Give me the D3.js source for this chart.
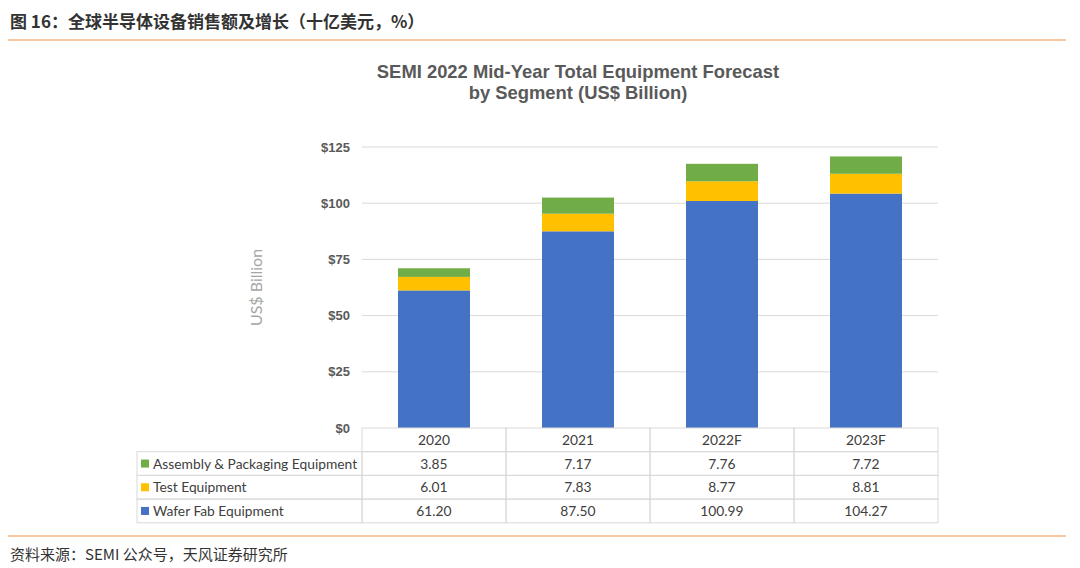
<!DOCTYPE html>
<html>
<head>
<meta charset="utf-8">
<script src="https://cdn.jsdelivr.net/npm/d3@7"></script>
<style>
  body { margin: 0; background: #fff; }
  svg { display: block; }
</style>
</head>
<body>
<svg id="chart" width="1080" height="568"></svg>
<script>
// Chart data
const years = ['2020', '2021', '2022F', '2023F'];
const seriesNames = ['Assembly & Packaging Equipment', 'Test Equipment', 'Wafer Fab Equipment'];
const assembly = [3.85, 7.17, 7.76, 7.72];
const test = [6.01, 7.83, 8.77, 8.81];
const waferFab = [61.20, 87.50, 100.99, 104.27];
const yTicks = [0, 25, 50, 75, 100, 125];
const seriesColors = ['#70AD47', '#FFC000', '#4472C4'];

const svg = d3.select('#chart');
const cjk = '"Noto Sans CJK SC", "Liberation Sans", sans-serif';
const tableFont = 'Lato, "Open Sans", sans-serif';

// Header & footer
svg.append('text')
    .attr('x', 10).attr('y', 28)
    .attr('font-family', cjk).attr('font-size', 17).attr('font-weight', 'bold')
    .attr('fill', '#333')
    .text('图 16：全球半导体设备销售额及增长（十亿美元，%）');
svg.append('line')
    .attr('x1', 8).attr('x2', 1066).attr('y1', 40).attr('y2', 40)
    .attr('stroke', '#F8B47E').attr('stroke-width', 1.5);
svg.append('line')
    .attr('x1', 8).attr('x2', 1066).attr('y1', 536).attr('y2', 536)
    .attr('stroke', '#F8B47E').attr('stroke-width', 1.5);
svg.append('text')
    .attr('x', 10).attr('y', 560)
    .attr('font-family', cjk).attr('font-size', 15)
    .attr('fill', '#333')
    .text('资料来源：SEMI 公众号，天风证券研究所');

// Title
const title = svg.append('text')
    .attr('text-anchor', 'middle')
    .attr('font-family', '"Liberation Sans", Arial, sans-serif')
    .attr('font-size', 18.4).attr('font-weight', 'bold')
    .attr('fill', '#595959');
title.append('tspan').attr('x', 578).attr('y', 78).text('SEMI 2022 Mid-Year Total Equipment Forecast');
title.append('tspan').attr('x', 578).attr('y', 99).text('by Segment (US$ Billion)');

// Scales
const plotLeft = 362, plotRight = 938, plotTop = 147, plotBottom = 428;
const x = d3.scaleBand().domain(years).range([plotLeft, plotRight]).paddingInner(0.5).paddingOuter(0.25);
const xCell = d3.scaleBand().domain(years).range([plotLeft, plotRight]);
const y = d3.scaleLinear().domain([0, 125]).range([plotBottom, plotTop]);

// Gridlines
svg.append('g')
    .selectAll('line')
    .data(yTicks.filter(d => d > 0))
    .join('line')
    .attr('x1', plotLeft).attr('x2', plotRight)
    .attr('y1', d => y(d)).attr('y2', d => y(d))
    .attr('stroke', '#d9d9d9').attr('stroke-width', 1);

// Y axis labels
const yAxis = svg.append('g')
    .attr('transform', `translate(${plotLeft - 12},0)`)
    .call(d3.axisLeft(y).tickValues(yTicks).tickSize(0).tickPadding(0).tickFormat(d => '$' + d));
yAxis.select('.domain').remove();
yAxis.selectAll('text')
    .attr('font-family', '"Liberation Sans", Arial, sans-serif')
    .attr('font-size', 13).attr('font-weight', 'bold')
    .attr('fill', '#595959');

svg.append('text')
    .attr('transform', `translate(262,${(plotTop + plotBottom) / 2}) rotate(-90)`)
    .attr('text-anchor', 'middle')
    .attr('font-family', tableFont)
    .attr('font-size', 16)
    .attr('fill', '#a6a6a6')
    .text('US$ Billion');

// Stacked bars (bottom to top: wafer fab, test, assembly)
const rows = years.map((yr, i) => ({ year: yr, wafer: waferFab[i], test: test[i], assembly: assembly[i] }));
const stack = d3.stack().keys(['wafer', 'test', 'assembly'])(rows);
const stackColors = { wafer: '#4472C4', test: '#FFC000', assembly: '#70AD47' };

svg.append('g')
    .selectAll('g')
    .data(stack)
    .join('g')
    .attr('fill', d => stackColors[d.key])
    .selectAll('rect')
    .data(d => d)
    .join('rect')
    .attr('x', d => x(d.data.year))
    .attr('width', x.bandwidth())
    .attr('y', d => y(d[1]))
    .attr('height', d => y(d[0]) - y(d[1]));

// Data table
const rowH = 23.7;
const tableLeft = 137;
const tbl = svg.append('g');
const border = '#d9d9d9';
const tSize = 13.8;

// header row cells (only year columns)
years.forEach(yr => {
    tbl.append('rect')
        .attr('x', xCell(yr)).attr('y', plotBottom)
        .attr('width', xCell.bandwidth()).attr('height', rowH)
        .attr('fill', 'none').attr('stroke', border);
    tbl.append('text')
        .attr('x', xCell(yr) + xCell.bandwidth() / 2).attr('y', plotBottom + rowH / 2 + 5)
        .attr('text-anchor', 'middle')
        .attr('font-family', tableFont).attr('font-size', tSize)
        .attr('fill', '#404040')
        .text(yr);
});

const tableData = [assembly, test, waferFab];
tableData.forEach((vals, r) => {
    const ry = plotBottom + rowH * (r + 1);
    tbl.append('rect')
        .attr('x', tableLeft).attr('y', ry)
        .attr('width', plotLeft - tableLeft).attr('height', rowH)
        .attr('fill', 'none').attr('stroke', border);
    tbl.append('rect')
        .attr('x', tableLeft + 4).attr('y', ry + rowH / 2 - 4)
        .attr('width', 8).attr('height', 8)
        .attr('fill', seriesColors[r]);
    tbl.append('text')
        .attr('x', tableLeft + 16).attr('y', ry + rowH / 2 + 5)
        .attr('font-family', tableFont).attr('font-size', tSize)
        .attr('fill', '#404040')
        .text(seriesNames[r]);
    years.forEach((yr, i) => {
        tbl.append('rect')
            .attr('x', xCell(yr)).attr('y', ry)
            .attr('width', xCell.bandwidth()).attr('height', rowH)
            .attr('fill', 'none').attr('stroke', border);
        tbl.append('text')
            .attr('x', xCell(yr) + xCell.bandwidth() / 2).attr('y', ry + rowH / 2 + 5)
            .attr('text-anchor', 'middle')
            .attr('font-family', tableFont).attr('font-size', tSize)
            .attr('fill', '#404040')
            .text(vals[i].toFixed(2));
    });
});
</script>
</body>
</html>
